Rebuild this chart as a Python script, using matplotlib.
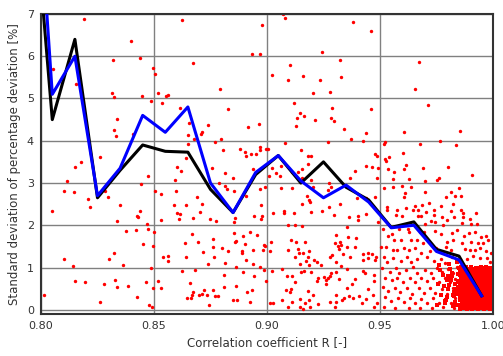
import matplotlib
matplotlib.use("Agg")
import matplotlib.pyplot as plt
import numpy as np

# binned standard deviation curves (bin centres every 0.01 in R)
bin_r = [0.795, 0.805, 0.815, 0.825, 0.835, 0.845, 0.855, 0.865, 0.875, 0.885, 0.895,
         0.905, 0.915, 0.925, 0.935, 0.945, 0.955, 0.965, 0.975, 0.985, 0.995]
sd_black = [10.9, 4.5, 6.4, 2.65, 3.3, 3.9, 3.75, 3.73, 2.85, 2.3, 3.2,
            3.65, 3.0, 3.5, 2.9, 2.6, 1.95, 2.08, 1.43, 1.27, 0.33]
sd_blue = [13.0, 5.1, 6.0, 2.7, 3.35, 4.6, 4.2, 4.8, 3.0, 2.3, 3.25,
           3.65, 3.05, 2.65, 2.95, 2.55, 1.94, 2.0, 1.38, 1.18, 0.33]

# individual samples
scatter_r = [
    # 0.80-0.85, upper
    0.8189, 0.8398, 0.8319, 0.8440, 0.8496, 0.8052, 0.8153, 0.8316, 0.8324, 0.8448, 0.8485,
    0.8335, 0.8322, 0.8333, 0.8409, 0.8176, 0.8260,
    # 0.85-0.90, upper
    0.8622, 0.8976, 0.8932, 0.8968, 0.8673, 0.8504, 0.8791, 0.8519, 0.8552, 0.8560, 0.8537,
    0.8615, 0.8826, 0.8653, 0.8740, 0.8917, 0.8966, 0.8711, 0.8708, 0.8649, 0.8678, 0.8650,
    0.8771, 0.8798, 0.8805, 0.8882, 0.8903, 0.8907, 0.8929, 0.8950, 0.8969, 0.8971, 0.8996,
    0.8640,
    # 0.90-0.95, upper
    0.9071, 0.9081, 0.9381, 0.9459, 0.9243, 0.9322, 0.9103, 0.9024, 0.9158, 0.9093, 0.9236,
    0.9329, 0.9205, 0.9280, 0.9118, 0.9286, 0.9459, 0.9147, 0.9165, 0.9131, 0.9214, 0.9283,
    0.9298, 0.9130, 0.9341, 0.9440, 0.9372, 0.9426, 0.9270, 0.9081, 0.9003, 0.9152, 0.9183,
    0.9195, 0.9476, 0.9488,
    # 0.95-1.00, upper
    0.9671, 0.9655, 0.9711, 0.9605, 0.9855, 0.9521, 0.9519, 0.9767, 0.9678, 0.9838, 0.9602,
    0.9541, 0.9521, 0.9525,
    # 0.80-0.85, lower
    0.8149, 0.8473, 0.8114, 0.8441, 0.8103, 0.8146, 0.8285, 0.8206, 0.8296, 0.8218, 0.8350,
    0.8050, 0.8438, 0.8426, 0.8428, 0.8335, 0.8470, 0.8376, 0.8422, 0.8475, 0.8450, 0.8497,
    0.8322, 0.8102, 0.8302, 0.8142, 0.8364, 0.8487, 0.8149, 0.8195, 0.8280, 0.8326, 0.8338,
    0.8386, 0.8466, 0.8496, 0.8013, 0.8423, 0.8260, 0.8478, 0.8493,
    # 0.85-0.90, lower
    0.8600, 0.8619, 0.8755, 0.8814, 0.8851, 0.8940, 0.8594, 0.8789, 0.8814, 0.8823, 0.8506,
    0.8531, 0.8597, 0.8690, 0.8855, 0.8909, 0.8968, 0.8990, 0.8588, 0.8643, 0.8712, 0.8972,
    0.8602, 0.8617, 0.8704, 0.8529, 0.8612, 0.8673, 0.8749, 0.8774, 0.8860, 0.8853, 0.8944,
    0.8978, 0.8975, 0.8501, 0.8668, 0.8763, 0.8855, 0.8895, 0.8925, 0.8957, 0.8636, 0.8693,
    0.8857, 0.8863, 0.8901, 0.8987, 0.8993, 0.8760, 0.8799, 0.8829, 0.8889, 0.8891, 0.8940,
    0.8981, 0.8718, 0.8541, 0.8562, 0.8563, 0.8642, 0.8767, 0.8907, 0.8740, 0.8813, 0.8863,
    0.8937, 0.8971, 0.8988, 0.8625, 0.8680, 0.8808, 0.8895, 0.8942, 0.8518, 0.8661, 0.8997,
    0.8529, 0.8811, 0.8864, 0.8934, 0.8674, 0.8721, 0.8761, 0.8698, 0.8712, 0.8736, 0.8771,
    0.8783, 0.8910, 0.8645, 0.8665, 0.8667, 0.8848, 0.8869, 0.8926, 0.8745,
    # 0.90-0.95, lower
    0.9021, 0.9062, 0.9181, 0.9041, 0.9058, 0.9009, 0.9111, 0.9137, 0.9156, 0.9155, 0.9367,
    0.9391, 0.9437, 0.9466, 0.9491, 0.9487, 0.9196, 0.9063, 0.9112, 0.9204, 0.9274, 0.9271,
    0.9282, 0.9176, 0.9187, 0.9192, 0.9156, 0.9273, 0.9322, 0.9397, 0.9440, 0.9479, 0.9028,
    0.9074, 0.9075, 0.9121, 0.9193, 0.9243, 0.9295, 0.9404, 0.9401, 0.9438, 0.9363, 0.9093,
    0.9124, 0.9355, 0.9491, 0.9155, 0.9307, 0.9360, 0.9395, 0.9019, 0.9108, 0.9130, 0.9170,
    0.9302, 0.9322, 0.9327, 0.9314, 0.9319, 0.9355, 0.9388, 0.9013, 0.9094, 0.9139, 0.9143,
    0.9158, 0.9184, 0.9286, 0.9335, 0.9425, 0.9447, 0.9466, 0.9124, 0.9180, 0.9279, 0.9367,
    0.9445, 0.9481, 0.9426, 0.9479, 0.9174, 0.9206, 0.9147, 0.9187, 0.9223, 0.9240, 0.9304,
    0.9327, 0.9352, 0.9022, 0.9065, 0.9152, 0.9164, 0.9193, 0.9282, 0.9305, 0.9425, 0.9432,
    0.9472, 0.9087, 0.9111, 0.9224, 0.9254, 0.9268, 0.9280, 0.9260, 0.9319, 0.9389, 0.9473,
    0.9125, 0.9223, 0.9263, 0.9355, 0.9375, 0.9447, 0.9086, 0.9103, 0.9108, 0.9180, 0.9204,
    0.9305, 0.9333, 0.9339, 0.9361, 0.9381, 0.9407, 0.9440, 0.9471, 0.9066, 0.9111, 0.9147,
    0.9167, 0.9187, 0.9227, 0.9277, 0.9304, 0.9422, 0.9015, 0.9027, 0.9091, 0.9145, 0.9161,
    0.9189, 0.9299, 0.9473, 0.9488,
    # 0.95-1.00, lower (sparser part)
    0.9534, 0.9560, 0.9606, 0.9615, 0.9689, 0.9802, 0.9906, 0.9556, 0.9628, 0.9698, 0.9754,
    0.9763, 0.9518, 0.9559, 0.9597, 0.9637, 0.9851, 0.9611, 0.9699, 0.9608, 0.9792, 0.9813,
    0.9830, 0.9857, 0.9718, 0.9653, 0.9687, 0.9770, 0.9822, 0.9531, 0.9531, 0.9577, 0.9614,
    0.9645, 0.9670, 0.9704, 0.9740, 0.9814, 0.9858, 0.9866, 0.9926, 0.9571, 0.9596, 0.9668,
    0.9680, 0.9740, 0.9773, 0.9826, 0.9867, 0.9897, 0.9726, 0.9745, 0.9795, 0.9861, 0.9904,
    0.9931, 0.9701, 0.9780,
    0.9512, 0.9535, 0.9553, 0.9586, 0.9624, 0.9627, 0.9678, 0.9696, 0.9745, 0.9768, 0.9817,
    0.9842, 0.9872, 0.9892, 0.9922, 0.9948, 0.9968, 0.9979, 0.9562, 0.9594, 0.9636, 0.9665,
    0.9692, 0.9795, 0.9822, 0.9863, 0.9901, 0.9934, 0.9957, 0.9503, 0.9527, 0.9559, 0.9574,
    0.9605, 0.9630, 0.9653, 0.9681, 0.9721, 0.9748, 0.9792, 0.9816, 0.9878, 0.9898, 0.9922,
    0.9942, 0.9969, 0.9990, 0.9518, 0.9532, 0.9559, 0.9591, 0.9619, 0.9639, 0.9662, 0.9706,
    0.9739, 0.9768, 0.9789, 0.9819, 0.9842, 0.9883, 0.9913, 0.9942, 0.9972, 0.9987, 0.9509,
    0.9544, 0.9571, 0.9586, 0.9615, 0.9647, 0.9665, 0.9698, 0.9724, 0.9751, 0.9774, 0.9801,
    0.9824, 0.9842, 0.9521, 0.9553, 0.9577, 0.9603, 0.9633, 0.9653, 0.9680, 0.9706, 0.9736,
    0.9760, 0.9789, 0.9810, 0.9833, 0.9512, 0.9535, 0.9565, 0.9588, 0.9621, 0.9642, 0.9671,
    0.9695, 0.9721, 0.9745, 0.9774, 0.9798, 0.9822, 0.9842, 0.9524, 0.9550, 0.9580, 0.9606,
    0.9633, 0.9656, 0.9683, 0.9709, 0.9736, 0.9763, 0.9789, 0.9813, 0.9833, 0.9518, 0.9568,
    0.9627, 0.9677, 0.9730, 0.9780, 0.9827,
]
scatter_sd = [
    6.88, 6.35, 5.92, 5.97, 5.72, 5.70, 5.35, 5.14, 5.04, 5.06, 4.94,
    4.51, 4.25, 4.11, 4.17, 3.50, 3.61,
    6.86, 6.74, 6.05, 6.06, 5.83, 5.57, 5.22, 5.13, 5.05, 5.08, 4.89,
    4.77, 4.74, 4.43, 4.38, 4.33, 4.40, 4.21, 4.15, 4.13, 4.05, 3.93,
    3.97, 4.05, 3.78, 3.80, 3.73, 3.64, 3.69, 3.69, 3.85, 3.79, 3.80,
    3.59,
    6.99, 6.90, 6.82, 6.60, 6.09, 5.91, 5.80, 5.55, 5.54, 5.43, 5.43,
    5.52, 5.13, 5.16, 4.89, 4.78, 4.76, 4.65, 4.59, 4.54, 4.50, 4.54,
    4.46, 4.35, 4.27, 4.18, 4.04, 4.00, 3.98, 3.94, 3.81, 3.77, 3.63,
    3.65, 3.69, 3.63,
    5.87, 5.23, 4.85, 4.21, 4.24, 3.98, 3.93, 4.00, 3.92, 3.91, 3.70,
    3.61, 3.56, 3.52,
    3.38, 3.17, 3.04, 2.97, 2.81, 2.79, 2.82, 2.63, 2.68, 2.44, 2.48,
    2.34, 2.33, 2.23, 2.20, 2.09, 2.04, 1.86, 1.88, 1.90, 1.56, 1.52,
    1.34, 1.20, 1.19, 1.04, 1.07, 0.99, 0.69, 0.66, 0.60, 0.71, 0.53,
    0.56, 0.66, 0.52, 0.36, 0.31, 0.19, 0.12, 0.07,
    3.37, 3.29, 3.35, 3.23, 3.13, 3.34, 3.06, 3.01, 2.93, 2.86, 2.80,
    2.75, 2.80, 2.68, 2.81, 2.69, 2.86, 2.91, 2.47, 2.49, 2.50, 2.49,
    2.30, 2.27, 2.32, 2.13, 2.14, 2.16, 2.14, 2.10, 2.16, 2.07, 2.23,
    2.23, 2.15, 1.84, 1.79, 1.67, 1.82, 1.75, 1.85, 1.76, 1.58, 1.60,
    1.60, 1.63, 1.56, 1.54, 1.50, 1.49, 1.45, 1.38, 1.39, 1.34, 1.42,
    1.41, 1.36, 1.24, 1.28, 1.15, 1.26, 1.24, 1.17, 1.09, 1.11, 1.01,
    1.09, 1.02, 0.93, 0.91, 0.93, 0.82, 0.90, 0.81, 0.67, 0.64, 0.67,
    0.52, 0.53, 0.56, 0.47, 0.42, 0.46, 0.47, 0.36, 0.38, 0.36, 0.32,
    0.32, 0.41, 0.27, 0.27, 0.34, 0.22, 0.24, 0.19, 0.12,
    3.36, 3.41, 3.46, 3.24, 3.17, 3.16, 3.26, 3.27, 3.34, 3.12, 3.12,
    3.28, 3.41, 3.37, 3.35, 3.11, 3.06, 2.89, 2.89, 2.90, 3.00, 2.83,
    2.90, 2.70, 2.60, 2.55, 2.51, 2.44, 2.50, 2.65, 2.64, 2.66, 2.29,
    2.34, 2.30, 2.30, 2.31, 2.33, 2.24, 2.23, 2.13, 2.27, 2.20, 2.00,
    2.00, 1.97, 2.08, 1.99, 1.78, 1.72, 1.69, 1.61, 1.64, 1.61, 1.61,
    1.59, 1.60, 1.54, 1.50, 1.44, 1.48, 1.49, 1.40, 1.41, 1.43, 1.34,
    1.35, 1.39, 1.30, 1.33, 1.33, 1.34, 1.33, 1.24, 1.24, 1.25, 1.26,
    1.23, 1.24, 1.17, 1.18, 1.15, 1.17, 1.09, 1.07, 1.12, 1.06, 1.12,
    1.04, 0.97, 0.91, 0.97, 0.89, 0.91, 0.89, 0.88, 0.90, 0.92, 0.86,
    0.82, 0.81, 0.80, 0.74, 0.77, 0.75, 0.79, 0.70, 0.73, 0.73, 0.68,
    0.66, 0.67, 0.60, 0.52, 0.60, 0.49, 0.47, 0.41, 0.48, 0.44, 0.34,
    0.34, 0.23, 0.29, 0.33, 0.29, 0.33, 0.25, 0.34, 0.22, 0.18, 0.25,
    0.16, 0.23, 0.13, 0.18, 0.19, 0.15, 0.15, 0.15, 0.07, 0.07, 0.01,
    0.07, 0.07, 0.07, 0.15,
    3.34, 3.25, 3.33, 3.43, 3.35, 3.38, 3.19, 3.09, 3.09, 3.05, 3.08,
    3.12, 2.87, 2.90, 2.92, 2.90, 2.87, 2.77, 2.79, 2.67, 2.68, 2.79,
    2.70, 2.70, 2.53, 2.46, 2.49, 2.46, 2.51, 2.44, 2.36, 2.37, 2.42,
    2.37, 2.35, 2.32, 2.35, 2.34, 2.35, 2.29, 2.30, 2.25, 2.21, 2.23,
    2.21, 2.25, 2.19, 2.19, 2.19, 2.15, 2.10, 2.08, 2.12, 2.06, 2.03,
    2.03, 2.02, 2.00,
    1.92, 1.75, 1.80, 1.91, 1.90, 1.83, 1.84, 1.85, 1.87, 1.79, 1.82,
    1.88, 1.75, 1.81, 1.83, 1.72, 1.75, 1.64, 1.64, 1.66, 1.64, 1.64,
    1.58, 1.61, 1.65, 1.58, 1.61, 1.57, 1.58, 1.49, 1.49, 1.41, 1.41,
    1.45, 1.41, 1.45, 1.34, 1.38, 1.45, 1.49, 1.41, 1.44, 1.41, 1.41,
    1.45, 1.39, 1.34, 1.25, 1.14, 1.22, 1.16, 1.25, 1.14, 1.19, 1.25,
    1.16, 1.20, 1.11, 1.25, 1.17, 1.19, 1.27, 1.22, 1.23, 1.14, 0.98,
    0.90, 1.00, 0.86, 0.94, 1.01, 0.87, 0.95, 0.86, 1.00, 0.89, 0.97,
    0.87, 1.01, 0.75, 0.70, 0.76, 0.65, 0.76, 0.65, 0.75, 0.67, 0.76,
    0.65, 0.75, 0.65, 0.73, 0.54, 0.45, 0.52, 0.41, 0.51, 0.38, 0.51,
    0.40, 0.52, 0.40, 0.49, 0.38, 0.51, 0.40, 0.30, 0.21, 0.29, 0.18,
    0.27, 0.16, 0.26, 0.15, 0.27, 0.16, 0.26, 0.15, 0.27, 0.07, 0.04,
    0.05, 0.05, 0.04, 0.07, 0.05,
]

# packed corner near R = 1 (individual points no longer separable)
dense_r = [
    0.9856, 0.9869, 0.9883, 0.9895, 0.9908, 0.9922, 0.9934, 0.9947, 0.9961, 0.9973, 0.9986, 0.9996,
    0.9862, 0.9876, 0.9888, 0.9902, 0.9914, 0.9927, 0.9941, 0.9953, 0.9966, 0.9980, 0.9992,
    0.9857, 0.9870, 0.9882, 0.9896, 0.9909, 0.9921, 0.9935, 0.9948, 0.9960, 0.9974, 0.9987, 0.9997,
    0.9863, 0.9875, 0.9889, 0.9901, 0.9915, 0.9928, 0.9940, 0.9954, 0.9967, 0.9979, 0.9993,
    0.9855, 0.9868, 0.9882, 0.9894, 0.9908, 0.9921, 0.9933, 0.9946, 0.9960, 0.9972, 0.9985, 0.9996,
    0.9862, 0.9874, 0.9888, 0.9901, 0.9913, 0.9927, 0.9940, 0.9952, 0.9966, 0.9979, 0.9991,
    0.9856, 0.9870, 0.9883, 0.9895, 0.9909, 0.9922, 0.9934, 0.9947, 0.9961, 0.9973, 0.9986, 0.9997,
    0.9863, 0.9876, 0.9889, 0.9902, 0.9914, 0.9928, 0.9941, 0.9953, 0.9967, 0.9980, 0.9992,
    0.9857, 0.9869, 0.9882, 0.9896, 0.9908, 0.9921, 0.9935, 0.9948, 0.9960, 0.9974, 0.9987, 0.9996,
    0.9862, 0.9875, 0.9888, 0.9901, 0.9915, 0.9927, 0.9940, 0.9954, 0.9966, 0.9979, 0.9993,
    0.9855, 0.9869, 0.9883, 0.9895, 0.9908, 0.9922, 0.9934, 0.9946, 0.9961, 0.9973, 0.9985, 0.9997,
    0.9863, 0.9875, 0.9889, 0.9902, 0.9914, 0.9928, 0.9941, 0.9953, 0.9967, 0.9980, 0.9992,
    0.9856, 0.9870, 0.9882, 0.9896, 0.9909, 0.9921, 0.9935, 0.9947, 0.9960, 0.9974, 0.9986, 0.9996,
    0.9862, 0.9874, 0.9888, 0.9901, 0.9913, 0.9927, 0.9940, 0.9954, 0.9966, 0.9979, 0.9991,
    0.9857, 0.9869, 0.9883, 0.9895, 0.9908, 0.9922, 0.9934, 0.9948, 0.9961, 0.9973, 0.9987, 0.9997,
    0.9863, 0.9876, 0.9889, 0.9902, 0.9915, 0.9928, 0.9941, 0.9953, 0.9967, 0.9980, 0.9993,
    0.9855, 0.9870, 0.9882, 0.9896, 0.9909, 0.9921, 0.9935, 0.9947, 0.9960, 0.9974, 0.9986, 0.9996,
    0.9862, 0.9875, 0.9888, 0.9901, 0.9914, 0.9927, 0.9940, 0.9954, 0.9966, 0.9979, 0.9992,
    0.9856, 0.9869, 0.9883, 0.9895, 0.9908, 0.9922, 0.9934, 0.9946, 0.9961, 0.9973, 0.9985, 0.9997,
    0.9863, 0.9876, 0.9889, 0.9902, 0.9915, 0.9928, 0.9941, 0.9953, 0.9967, 0.9980, 0.9992,
    0.9860, 0.9881, 0.9903, 0.9925, 0.9949, 0.9971, 0.9990,
    # ragged edge of the packed corner, 0.975-0.986
    0.9752, 0.9771, 0.9790, 0.9806, 0.9823, 0.9839, 0.9758, 0.9779, 0.9797, 0.9815, 0.9831, 0.9846,
    0.9765, 0.9786, 0.9803, 0.9819, 0.9836, 0.9849, 0.9761, 0.9783, 0.9800, 0.9827, 0.9843, 0.9794,
    0.9812, 0.9830, 0.9845, 0.9807, 0.9824, 0.9841, 0.9818, 0.9835, 0.9848, 0.9798, 0.9826, 0.9844,
]
dense_sd = [
    0.02, 0.03, 0.02, 0.03, 0.02, 0.03, 0.02, 0.03, 0.02, 0.03, 0.02, 0.03,
    0.07, 0.08, 0.07, 0.08, 0.07, 0.08, 0.07, 0.08, 0.07, 0.08, 0.07,
    0.12, 0.13, 0.12, 0.13, 0.12, 0.13, 0.12, 0.13, 0.12, 0.13, 0.12, 0.13,
    0.17, 0.18, 0.17, 0.18, 0.17, 0.18, 0.17, 0.18, 0.17, 0.18, 0.17,
    0.22, 0.23, 0.22, 0.23, 0.22, 0.23, 0.22, 0.23, 0.22, 0.23, 0.22, 0.23,
    0.27, 0.28, 0.27, 0.28, 0.27, 0.28, 0.27, 0.28, 0.27, 0.28, 0.27,
    0.32, 0.33, 0.32, 0.33, 0.32, 0.33, 0.32, 0.33, 0.32, 0.33, 0.32, 0.33,
    0.37, 0.38, 0.37, 0.38, 0.37, 0.38, 0.37, 0.38, 0.37, 0.38, 0.37,
    0.42, 0.43, 0.42, 0.43, 0.42, 0.43, 0.42, 0.43, 0.42, 0.43, 0.42, 0.43,
    0.47, 0.48, 0.47, 0.48, 0.47, 0.48, 0.47, 0.48, 0.47, 0.48, 0.47,
    0.52, 0.53, 0.52, 0.53, 0.52, 0.53, 0.52, 0.53, 0.52, 0.53, 0.52, 0.53,
    0.57, 0.58, 0.57, 0.58, 0.57, 0.58, 0.57, 0.58, 0.57, 0.58, 0.57,
    0.62, 0.63, 0.62, 0.63, 0.62, 0.63, 0.62, 0.63, 0.62, 0.63, 0.62, 0.63,
    0.67, 0.68, 0.67, 0.68, 0.67, 0.68, 0.67, 0.68, 0.67, 0.68, 0.67,
    0.72, 0.73, 0.72, 0.73, 0.72, 0.73, 0.72, 0.73, 0.72, 0.73, 0.72, 0.73,
    0.77, 0.78, 0.77, 0.78, 0.77, 0.78, 0.77, 0.78, 0.77, 0.78, 0.77,
    0.82, 0.83, 0.82, 0.83, 0.82, 0.83, 0.82, 0.83, 0.82, 0.83, 0.82, 0.83,
    0.87, 0.88, 0.87, 0.88, 0.87, 0.88, 0.87, 0.88, 0.87, 0.88, 0.87,
    0.92, 0.93, 0.92, 0.93, 0.92, 0.93, 0.92, 0.93, 0.92, 0.93, 0.92, 0.93,
    0.97, 0.98, 0.97, 0.98, 0.97, 0.98, 0.97, 0.98, 0.97, 0.98, 0.97,
    1.01, 1.02, 1.01, 1.00, 1.02, 1.01, 1.00,
    0.11, 0.34, 0.21, 0.58, 0.09, 0.44, 0.62, 0.83, 0.30, 0.71, 0.19, 0.55,
    0.93, 0.16, 0.48, 0.88, 0.37, 0.66, 1.05, 0.57, 0.79, 0.42, 1.12, 0.24,
    0.96, 0.61, 0.85, 1.08, 0.35, 0.12, 0.80, 0.50, 0.98, 0.70, 0.33, 0.68,
]

x_ticks = [0.80, 0.85, 0.90, 0.95, 1.00]
y_ticks = [0, 1, 2, 3, 4, 5, 6, 7]

fig = plt.figure(figsize=(5.03, 3.56), dpi=100)
ax = fig.add_axes([0.0815, 0.118, 0.8985, 0.8427])

ax.scatter(scatter_r, scatter_sd, s=6, c="red", linewidths=0, zorder=2)
ax.scatter(dense_r, dense_sd, s=10, c="red", marker="s", linewidths=0, zorder=2)
ax.plot(bin_r, sd_black, color="black", lw=2.2, zorder=3)
ax.plot(bin_r, sd_blue, color="blue", lw=2.2, zorder=4)

ax.set_xlim(0.80, 1.00)
ax.set_ylim(-0.1, 7)
ax.set_xticks(x_ticks)
ax.set_xticklabels([f"{t:.2f}" for t in x_ticks])
ax.set_yticks(y_ticks)
ax.grid(True, color="#808080", lw=1.0, zorder=1)
ax.set_axisbelow(True)
ax.tick_params(direction="in", length=0, labelsize=8, colors="#333333", pad=5)
for s in ax.spines.values():
    s.set_color("#333333")
    s.set_linewidth(1.5)

ax.set_xlabel("Correlation coefficient R [-]", fontsize=8.5, color="#333333", labelpad=4)
ax.set_ylabel("Standard deviation of percentage deviation [%]", fontsize=8.5,
              color="#333333", labelpad=4)

fig.savefig("out.png", dpi=100)
